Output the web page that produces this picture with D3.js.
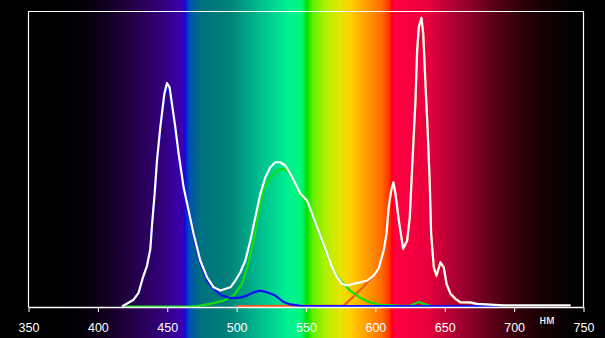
<!DOCTYPE html>
<html><head><meta charset="utf-8">
<script src="https://cdn.jsdelivr.net/npm/d3@7"></script>
<style>html,body{margin:0;padding:0;background:#000;}svg{display:block;}</style>
</head><body>
<script>
// ---- data ----
const tickValues = [350,400,450,500,550,600,650,700,750];
const unitLabel = "нм";

const whiteWl  = [417.4,425.7,429.3,432.5,435.4,437.8,439,440.9,442.6,445,447.9,449.8,451.7,453.4,455.8,458.2,461.8,465.4,469,473.8,478.7,483.4,488.3,495.5,499.1,502.7,506.3,509.9,513.5,517.1,520.7,524.3,527.9,531.5,535.1,538.7,542.4,546,550.8,554.4,558,561.6,565.2,568.8,572.4,576,579.6,584.4,589.2,594.1,598.8,602.4,606,608,609.6,611.4,613,614.5,616.9,620,622.9,624.8,626.5,627.7,628.9,630.1,631.3,633.2,634.5,636.1,637.8,639.2,640.2,642.1,644,646.9,649.3,651.3,654.2,657.8,661.4,668.6,673.4,692.4,740.7];
const whiteVal = [0,2.3,4.6,9.9,13.8,19.5,27.5,38.2,49.5,60.8,72.1,75.7,74.3,68.7,60.8,51.8,40.4,32.5,24.6,15.6,9.9,6.5,5.4,6.5,8.8,11.6,15.6,22.4,30.3,38.2,43.8,47.2,48.9,48.9,47.8,45,41.6,38.2,35.9,31.4,26.9,22.4,17.9,13.3,9.9,7.7,7.1,7.7,8.2,8.8,10.5,12.9,19,24.7,33.7,39.3,42.1,38.2,29.2,19.6,22.4,30.3,47.2,58.5,69.8,86.8,94.7,97.9,92.5,75.5,58.5,41.6,24.6,13.3,10.5,15,13.3,7.7,4.3,2.6,1.5,1.4,0.9,0.4,0.4];

const blueWl  = [417.4,425.7,429.3,432.5,435.4,437.8,439,440.9,442.6,445,447.9,449.8,451.7,453.4,455.8,458.2,461.8,465.4,469,473.8,478.7,483.4,489.5,495.5,501.5,507.5,512.3,517.1,521.9,527.9,533.9,538.7,546,558,692.4];
const blueVal = [0,2.2,4.4,9.7,13.5,19.1,27.0,37.5,48.6,59.7,70.8,74.3,72.9,67.4,59.6,50.7,39.5,31.6,23.6,14.8,8.8,6.0,3.7,2.9,2.9,3.7,4.8,5.4,4.8,3.7,1.5,0.7,0.2,0.1,0.1];

const greenWl  = [418,465,471.5,481,490.6,497.9,503.9,507.5,512.3,515.9,519.5,524.3,529.2,533.9,537.5,541.1,546,550.8,554.4,558,561.6,565.2,568.8,572.4,574.8,582,589.2,596.4,603.6,610.9,618.1,625.3,628.9,631.3,634.9,639.7,652.9];
const greenVal = [0,0,0.1,0.9,2,3.7,7.7,12.9,22.4,31.4,39.3,43.8,46.1,46.7,45.5,42.7,37.6,35.3,30.8,26.4,22,17.6,13.2,10.2,8.8,5.3,2.9,1.4,0.5,0.5,0.2,0.3,1.1,1.5,0.9,0.2,0.1];

const redWl  = [500,577.2,582,586.9,591.6,594.1,598.8,602.4,606,608,609.6,611.4,613,614.5,616.9,620,622.9,624.8,626.5,627.7,628.9,630.1,631.3,633.2,634.5,636.1,637.8,639.2,640.2,642.1,644,646.9,649.3,651.3,654.2,657.8,661.4,668.6,673.4,692.4];
const redVal = [0.1,0.3,2.4,4.7,6.8,8.1,10.2,12.6,18.7,24.4,33.4,39.0,41.8,37.9,28.9,19.3,22.1,30.0,46.9,58.2,69.5,86.5,94.4,97.6,92.2,75.2,58.2,41.3,24.3,13.0,10.2,14.7,13.0,7.4,4.0,2.3,1.2,1.1,0.7,0.2];

const gradWl  = [350,385,398,422,446,461,462.5,463.5,466,474,494,518,537,546,549,550.5,555,564,575,582,593,604,609.5,612,613.5,625,638,661,683,704,722,740,750];
const gradCol = ["#000000","#020004","#0a0012","#220040","#320078","#3a00b4","#2000d0","#0020e0","#0050b0","#00707f","#00807a","#00c090","#00f090","#00f880","#00e840","#00e000","#60f000","#b0f000","#e8e400","#ffd000","#ffa000","#ff7000","#ff3800","#ff0010","#ff0040","#f80040","#e8003c","#a00030","#600018","#300008","#150003","#050000","#000000"];

// ---- chart ----
const W = 605, H = 338;
const x = d3.scaleLinear().domain([350,750]).range([28.5,583.5]);
const y = d3.scaleLinear().domain([0,100]).range([306.5,11.5]);

const svg = d3.select("body").append("svg").attr("width",W).attr("height",H)
  .style("background","#000");

const defs = svg.append("defs");
const lg = defs.append("linearGradient").attr("id","spec")
  .attr("gradientUnits","userSpaceOnUse")
  .attr("x1",x(350)).attr("x2",x(750)).attr("y1",0).attr("y2",0);
gradWl.forEach((w,i)=>{
  lg.append("stop").attr("offset",(x(w)-x(350))/(x(750)-x(350))).attr("stop-color",gradCol[i]);
});
svg.append("rect").attr("x",x(350)).attr("y",0).attr("width",x(750)-x(350)).attr("height",H)
  .attr("fill","url(#spec)");

const line = d3.line().x(d=>x(d[0])).y(d=>y(d[1]));
function series(wl, val, color){
  svg.append("path").datum(wl.map((w,i)=>[w,val[i]]))
    .attr("d",line).attr("fill","none").attr("stroke",color)
    .attr("stroke-width",2.2).attr("stroke-linejoin","round");
}
series(redWl, redVal, "#f25a1c");
series(greenWl, greenVal, "#10e010");
series(blueWl, blueVal, "#1010f0");
series(whiteWl, whiteVal, "#ffffff");

// frame
svg.append("path")
  .attr("d",`M${x(350)},307 V${y(100)} H${x(750)} V307`)
  .attr("fill","none").attr("stroke","#fff").attr("stroke-width",1.2);

const axis = d3.axisBottom(x).tickValues(tickValues).tickSize(5).tickSizeOuter(0).tickPadding(11)
  .tickFormat(d3.format("d"));
const ag = svg.append("g").attr("transform","translate(0,307)").call(axis);
ag.select(".domain").attr("stroke","#fff").attr("stroke-width",1.5);
ag.selectAll(".tick line").attr("stroke","#fff");
ag.selectAll(".tick text").attr("fill","#fff").attr("font-family","Liberation Sans, Arial, sans-serif").attr("font-size",12.5);

svg.append("text").attr("x",547).attr("y",324).attr("text-anchor","middle")
  .attr("fill","#fff").attr("font-family","Liberation Sans, Arial, sans-serif")
  .attr("font-size",12).text(unitLabel);
</script>
</body></html>
